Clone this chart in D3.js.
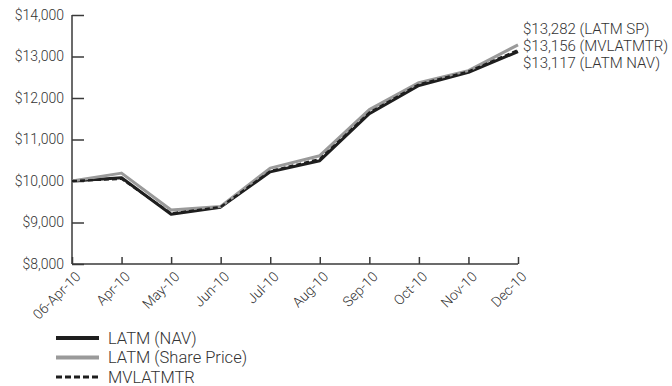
<!DOCTYPE html>
<html>
<head>
<meta charset="utf-8">
<script src="https://cdn.jsdelivr.net/npm/d3@7"></script>
<style>
  html, body { margin: 0; padding: 0; background: #fff; }
  svg { display: block; font-family: Roboto, "Liberation Sans", sans-serif; font-weight: 300; }
</style>
</head>
<body>
<svg id="chart" width="672" height="386"></svg>
<script>
// Growth of $10,000 since inception
const categories = ["06-Apr-10", "Apr-10", "May-10", "Jun-10", "Jul-10", "Aug-10", "Sep-10", "Oct-10", "Nov-10", "Dec-10"];
const navValues   = [10000, 10080, 9200, 9370, 10220, 10490, 11620, 12300, 12620, 13117];
const priceValues = [10000, 10190, 9300, 9385, 10310, 10610, 11720, 12370, 12660, 13282];
const indexValues = [10000, 10050, 9220, 9375, 10240, 10530, 11650, 12330, 12640, 13156];
const yTicks = [8000, 9000, 10000, 11000, 12000, 13000, 14000];
const endLabels = ["$13,282 (LATM SP)", "$13,156 (MVLATMTR)", "$13,117 (LATM NAV)"];
const legendNames = ["LATM (NAV)", "LATM (Share Price)", "MVLATMTR"];

const svg = d3.select("#chart");
const x0 = 72, x1 = 518, yTop = 15, yBot = 264;

const x = d3.scalePoint().domain(categories).range([x0, x1]);
const y = d3.scaleLinear().domain([8000, 14000]).range([yBot, yTop]);

const fmt = v => "$" + d3.format(",")(v);

// Y axis: ticks point inward
const yAxis = svg.append("g").attr("transform", `translate(${x0},0)`)
  .call(d3.axisRight(y).tickValues(yTicks).tickSize(12).tickFormat(""));
yAxis.select(".domain").attr("stroke", "#3a3a3a").attr("stroke-width", 1.5).attr("d", `M0,${yTop}V${yBot}`);
yAxis.selectAll(".tick line").attr("stroke", "#3a3a3a").attr("stroke-width", 1.5);

svg.append("g").selectAll("text").data(yTicks).join("text")
  .attr("x", 64).attr("y", d => y(d)).attr("dy", "0.35em")
  .attr("text-anchor", "end").attr("font-size", 14).attr("fill", "#333")
  .text(fmt);

// X axis: ticks point upward
const xAxis = svg.append("g").attr("transform", `translate(0,${yBot})`)
  .call(d3.axisTop(x).tickSize(7).tickFormat(""));
xAxis.select(".domain").attr("stroke", "#3a3a3a").attr("stroke-width", 1.5).attr("d", `M${x0},0H${x1}`);
xAxis.selectAll(".tick line").attr("stroke", "#3a3a3a").attr("stroke-width", 1.5);

svg.append("g").selectAll("text").data(categories).join("text")
  .attr("transform", d => `translate(${x(d) + 6},${yBot + 10}) rotate(-45)`)
  .attr("text-anchor", "end").attr("dy", "0.35em")
  .attr("font-size", 14).attr("fill", "#333")
  .text(d => d);

// Series lines
const line = d3.line().x((d, i) => x(categories[i])).y(d => y(d));
const series = [
  { values: navValues,   stroke: "#1e1e1e", width: 3,   dash: null },
  { values: priceValues, stroke: "#9a9a9a", width: 3,   dash: null },
  { values: indexValues, stroke: "#1e1e1e", width: 2.2, dash: "5,3" }
];
series.forEach(s => {
  svg.append("path").datum(s.values)
    .attr("d", line).attr("fill", "none")
    .attr("stroke", s.stroke).attr("stroke-width", s.width)
    .attr("stroke-dasharray", s.dash)
    .attr("stroke-linejoin", "round");
});

// End-value annotations
svg.append("g").selectAll("text").data(endLabels).join("text")
  .attr("x", 523).attr("y", (d, i) => 29 + i * 17).attr("dy", "0.35em")
  .attr("font-size", 15).attr("fill", "#333")
  .text(d => d);

// Legend
const legend = svg.append("g").selectAll("g").data(series).join("g")
  .attr("transform", (d, i) => `translate(56,${338 + i * 19.5})`);
legend.append("line")
  .attr("x1", 0).attr("x2", 43)
  .attr("stroke", d => d.stroke)
  .attr("stroke-width", (d, i) => i === 2 ? 3 : 4)
  .attr("stroke-dasharray", (d, i) => i === 2 ? "6,3" : null);
legend.append("text")
  .attr("x", 52).attr("dy", "0.35em")
  .attr("font-size", 16.5).attr("fill", "#333")
  .text((d, i) => legendNames[i]);
</script>
</body>
</html>
